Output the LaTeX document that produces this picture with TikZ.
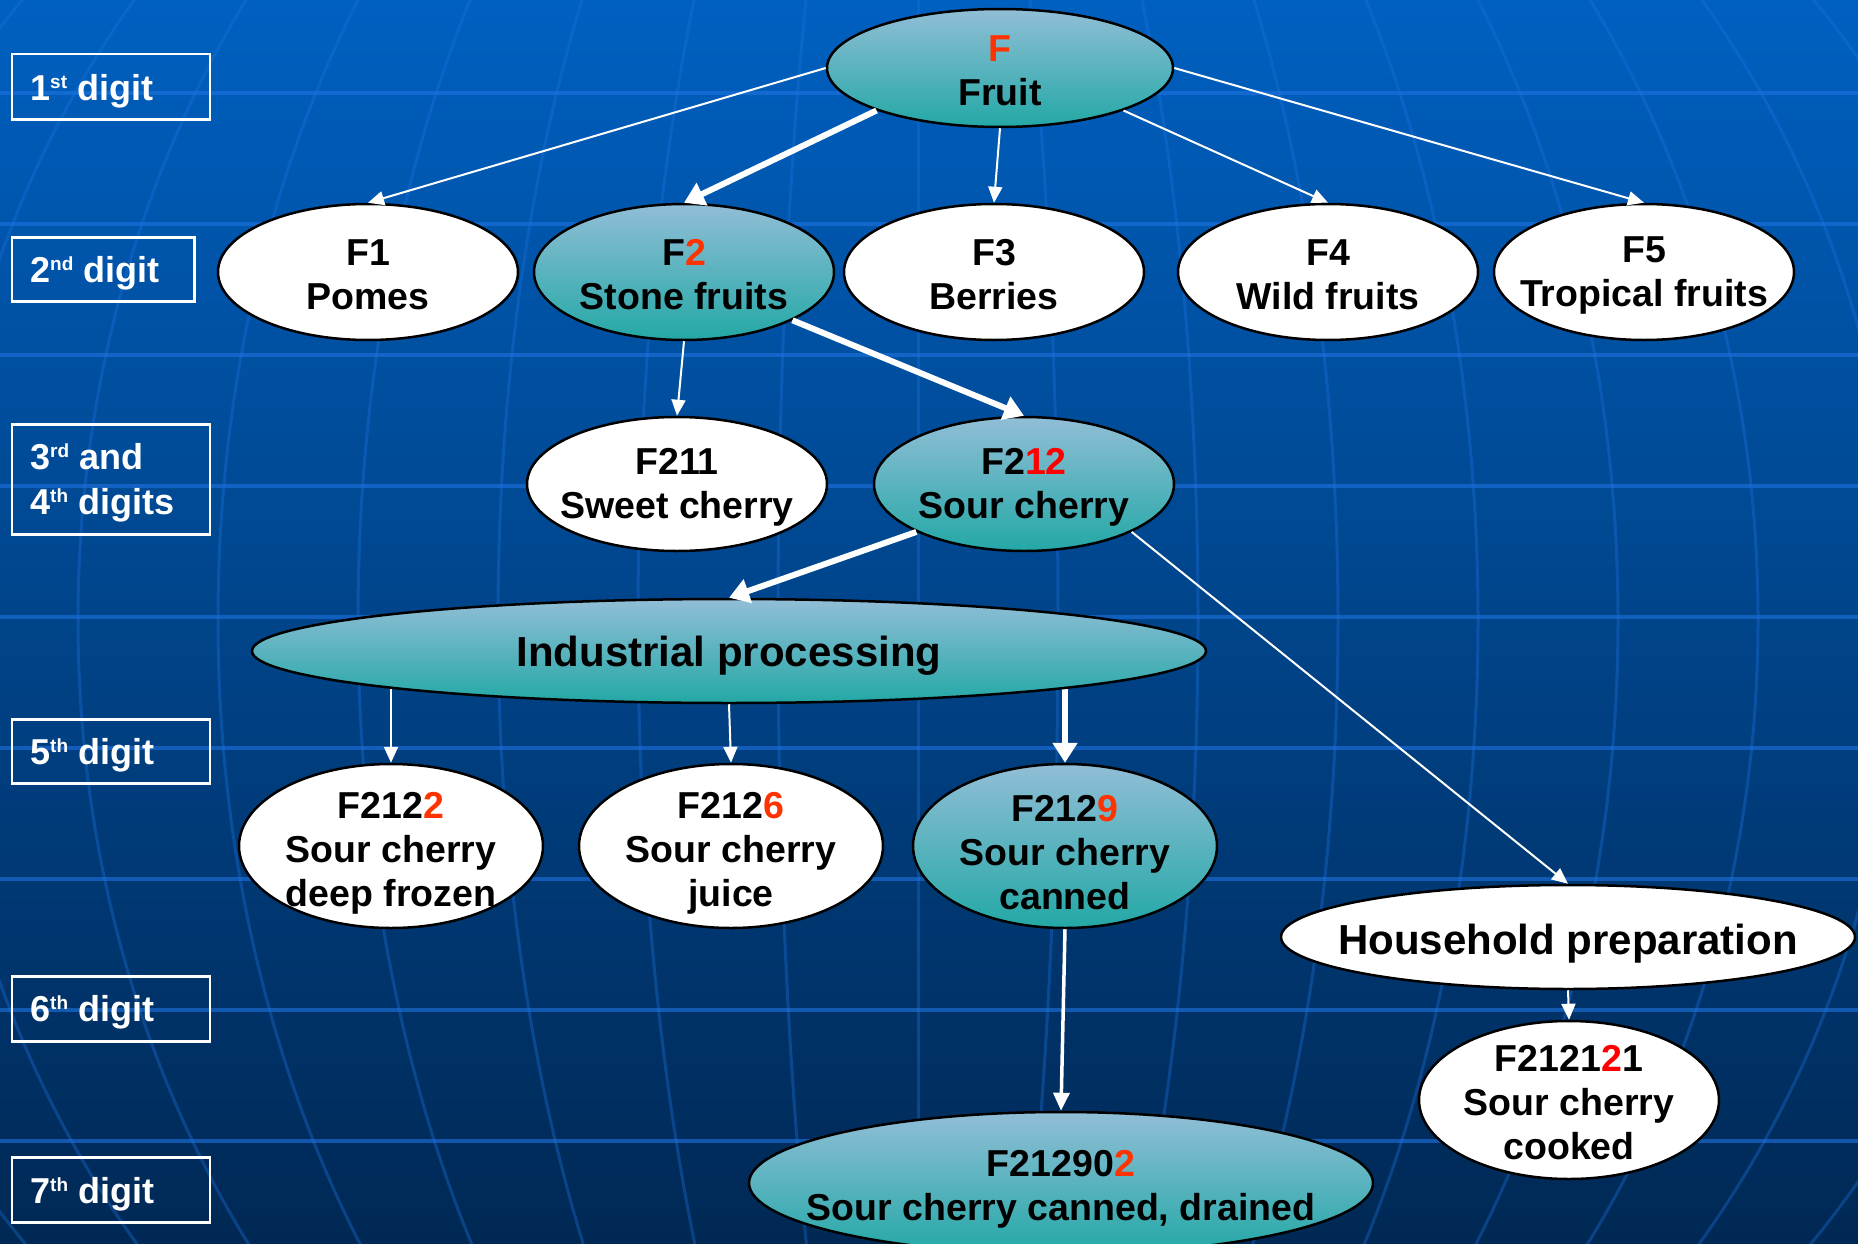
\documentclass[tikz,border=0pt]{standalone}
\usepackage{fontspec}
\setmainfont{Liberation Sans}
\usetikzlibrary{shapes.geometric,arrows.meta}
\definecolor{bgtop}{RGB}{0,96,192}
\definecolor{bgmid}{RGB}{0,70,140}
\definecolor{bgbot}{RGB}{0,40,84}
\definecolor{gridc}{RGB}{30,115,225}
\definecolor{tealtop}{RGB}{145,190,215}
\definecolor{tealbot}{RGB}{35,168,165}
\definecolor{redA}{RGB}{255,51,0}
\definecolor{redB}{RGB}{255,0,0}
\newcommand\supx[1]{\raisebox{12pt}{\fontsize{19}{19}\selectfont #1}}
\newcommand\ra[1]{\textcolor{redA}{#1}}
\newcommand\rb[1]{\textcolor{redB}{#1}}
\begin{document}
\begin{tikzpicture}[x=1pt,y=-1pt,
  ellbase/.style={ellipse, draw=black, line width=2.5pt, inner sep=0pt},
  whiteell/.style={ellbase, fill=white},
  tealell/.style={ellbase, top color=tealtop, bottom color=tealbot},
  lbl/.style={align=center, font=\fontsize{37.5}{44}\selectfont\bfseries, text=black, inner sep=0pt, yshift=-3pt},
  biglbl/.style={font=\fontsize{42}{48}\selectfont\bfseries, text=black, inner sep=0pt},
  digbox/.style={draw=white, line width=2.5pt, inner sep=0pt, anchor=north west},
  digtxt/.style={font=\fontsize{36}{45}\selectfont\bfseries, text=white, align=left, anchor=west, inner sep=0pt},
  tarrow/.style={draw=white, line width=2pt, -{Triangle[length=16pt,width=14pt]}},
  karrow/.style={draw=white, line width=6pt, -{Triangle[length=20pt,width=24pt]}},
  marrow/.style={draw=white, line width=3.5pt, -{Triangle[length=18pt,width=16pt]}},
  hgrid/.style={draw=gridc, opacity=0.6, line width=4pt},
  vgrid/.style={draw=gridc, opacity=0.35, line width=3pt}
]
\useasboundingbox (0,0) rectangle (1858,1244);
\shade[top color=bgtop, middle color=bgmid, bottom color=bgbot] (0,0) rectangle (1858,1244);
\begin{scope}
\clip (0,0) rectangle (1858,1244);
\foreach \j in {0,...,8} \draw[hgrid] (0,{93+131*\j}) -- (1858,{93+131*\j});
\foreach \k in {1,...,8} \draw[vgrid] (918,620) ellipse [x radius={140*\k}, y radius=1033];
\draw[vgrid] (918,0) -- (918,1244);
\end{scope}

% digit boxes
\node[digbox, minimum width=198pt, minimum height=65.5pt] (d1) at (10.5,53) {};
\node[digtxt] (d1t) at (30,91) {1\supx{st} digit};
\node[digbox, minimum width=182.5pt, minimum height=64pt] (d2) at (10.5,236) {};
\node[digtxt] (d2t) at (30,273) {2\supx{nd} digit};
\node[digbox, minimum width=198pt, minimum height=110pt] (d3) at (10.5,423) {};
\node[digtxt] (d3t) at (30,483) {3\supx{rd} and\\4\supx{th} digits};
\node[digbox, minimum width=198pt, minimum height=64pt] (d5) at (10.5,718) {};
\node[digtxt] (d5t) at (30,755) {5\supx{th} digit};
\node[digbox, minimum width=198pt, minimum height=65pt] (d6) at (10.5,975) {};
\node[digtxt] (d6t) at (30,1012) {6\supx{th} digit};
\node[digbox, minimum width=198pt, minimum height=65pt] (d7) at (10.5,1156) {};
\node[digtxt] (d7t) at (30,1194) {7\supx{th} digit};

% lower row first, so that the vertical connectors can start under the wide ellipse
\node[whiteell, minimum width=304pt, minimum height=164pt] (f2122) at (391,846) {};
\node[whiteell, minimum width=304pt, minimum height=164pt] (f2126) at (731,846) {};
\node[tealell, minimum width=304pt, minimum height=164pt] (f2129) at (1065,846) {};
\coordinate (indc) at (729,651);
\draw[tarrow] (f2122.north |- indc) -- (f2122.north);
\draw[karrow] (f2129.north |- indc) -- (f2129.north);
\node[tealell, minimum width=954pt, minimum height=104pt] (ind) at (indc) {};

\node[tealell, minimum width=346pt, minimum height=118pt] (fruit) at (1000,68) {};
\node[whiteell, minimum width=300pt, minimum height=136pt] (f1) at (368,272) {};
\node[tealell, minimum width=300pt, minimum height=136pt] (f2) at (684,272) {};
\node[whiteell, minimum width=300pt, minimum height=136pt] (f3) at (994,272) {};
\node[whiteell, minimum width=300pt, minimum height=136pt] (f4) at (1328,272) {};
\node[whiteell, minimum width=300pt, minimum height=136pt] (f5) at (1644,272) {};
\node[whiteell, minimum width=300pt, minimum height=134pt] (f211) at (677,484) {};
\node[tealell, minimum width=300pt, minimum height=134pt] (f212) at (1024,484) {};
\node[whiteell, minimum width=574pt, minimum height=104pt] (house) at (1568,937) {};
\node[whiteell, minimum width=300pt, minimum height=158pt] (f212121) at (1569,1100) {};
\node[tealell, minimum width=624pt, minimum height=142pt] (f212902) at (1061,1183) {};

% connectors
\draw[tarrow] (fruit.west) -- (f1.north);
\draw[karrow] (fruit.199) -- (f2.north);
\draw[tarrow] (fruit.south) -- (f3.north);
\draw[tarrow] (fruit.-19) -- (f4.north);
\draw[tarrow] (fruit.east) -- (f5.north);
\draw[tarrow] (f2.south) -- (f211.north);
\draw[karrow] (f2.-24) -- (f212.north);
\draw[karrow] (f212.204) -- (ind.north);
\draw[tarrow] (f212.-24) -- (house.north);
\draw[tarrow] (ind.south) -- (f2126.north);
\draw[marrow] (f2129.south) -- (f212902.north);
\draw[tarrow] (house.south) -- (f212121.north);

% texts
\node[lbl] (fruitt) at (fruit) {\ra{F}\\Fruit};
\node[lbl] (f1t) at (f1) {F1\\Pomes};
\node[lbl] (f2t) at (f2) {F\ra{2}\\Stone fruits};
\node[lbl] (f3t) at (f3) {F3\\Berries};
\node[lbl] (f4t) at (f4) {F4\\Wild fruits};
\node[lbl] (f5t) at (f5) {F5\\Tropical fruits};
\node[lbl] (f211t) at (f211) {F211\\Sweet cherry};
\node[lbl] (f212t) at (f212) {F2\rb{12}\\Sour cherry};
\node[biglbl] (indt) at (729,656) {Industrial processing};
\node[lbl] (f2122t) at (391,850) {F212\ra{2}\\Sour cherry\\deep frozen};
\node[lbl] (f2126t) at (731,850) {F212\ra{6}\\Sour cherry\\juice};
\node[lbl] (f2129t) at (1065,850) {F212\ra{9}\\Sour cherry\\canned};
\node[biglbl] (houset) at (1568,944) {Household preparation};
\node[lbl] (f212121t) at (f212121) {F2121\rb{2}1\\Sour cherry\\cooked};
\node[lbl] (f212902t) at (1061,1186) {F21290\ra{2}\\Sour cherry canned, drained};
\end{tikzpicture}
\end{document}
